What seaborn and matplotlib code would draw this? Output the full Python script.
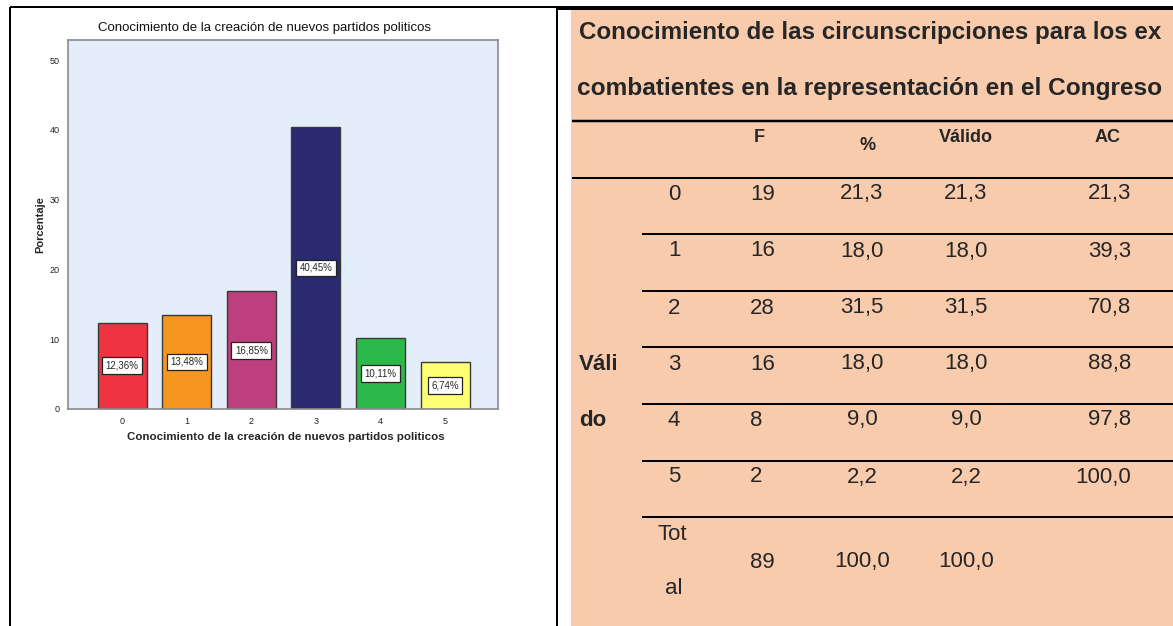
import matplotlib
matplotlib.use("Agg")
import matplotlib.pyplot as plt
import seaborn as sns
import pandas as pd
from matplotlib.patches import Rectangle

# ---------------- data ----------------
categories = ["0", "1", "2", "3", "4", "5"]
porcentajes = [12.36, 13.48, 16.85, 40.45, 10.11, 6.74]
bar_colors = ["#EF3340", "#F7961F", "#BE3F7E", "#2A2A70", "#2DB84A", "#FFFF73"]
chart_title = "Conocimiento de la creación de nuevos partidos politicos"
x_label = "Conocimiento de la creación de nuevos partidos politicos"
y_label = "Porcentaje"
y_ticks = [0, 10, 20, 30, 40, 50]

table_title = ["Conocimiento de las circunscripciones para los ex",
               "combatientes en la representación en el Congreso"]
table_header = ["F", "%", "Válido", "AC"]
row_index = ["0", "1", "2", "3", "4", "5"]
col_F = ["19", "16", "28", "16", "8", "2"]
col_pct = ["21,3", "18,0", "31,5", "18,0", "9,0", "2,2"]
col_valido = ["21,3", "18,0", "31,5", "18,0", "9,0", "2,2"]
col_AC = ["21,3", "39,3", "70,8", "88,8", "97,8", "100,0"]
group_label = ["Váli", "do"]
total_label = ["Tot", "al"]
total_values = ["89", "100,0", "100,0"]

# ---------------- style ----------------
sns.set_theme(style="white")
plt.rcParams["font.family"] = ["Liberation Sans Narrow", "Liberation Sans", "DejaVu Sans"]
narrow = ["Liberation Sans Narrow", "Liberation Sans", "DejaVu Sans"]
arial = ["Liberation Sans", "DejaVu Sans"]

W, H = 1173, 626
fig = plt.figure(figsize=(W / 100, H / 100), dpi=100)
fig.patch.set_facecolor("white")

# overlay axes in pixel coordinates (layout only)
ov = fig.add_axes([0, 0, 1, 1], zorder=0)
ov.set_xlim(0, W)
ov.set_ylim(H, 0)
ov.axis("off")

PX = 72 / 100  # points per pixel

# frame lines
ov.plot([10, 557], [7, 7], color="black", lw=2 * PX, solid_capstyle="butt")
ov.plot([557, W], [8, 8], color="black", lw=4 * PX, solid_capstyle="butt")
ov.plot([10, 10], [7, H], color="black", lw=2 * PX, solid_capstyle="butt")
ov.plot([557, 557], [7, H], color="black", lw=2 * PX, solid_capstyle="butt")
ov.add_patch(Rectangle((571, 10), W - 571, H - 10, facecolor="#F8CBAD", edgecolor="none"))

# ---------------- bar chart ----------------
ax_l, ax_r, ax_t, ax_b = 68, 498, 40, 409
ax = fig.add_axes([ax_l / W, 1 - ax_b / H, (ax_r - ax_l) / W, (ax_b - ax_t) / H], zorder=2)
df = pd.DataFrame({"cat": categories, "pct": porcentajes})
sns.barplot(data=df, x="cat", y="pct", hue="cat", palette=bar_colors, legend=False,
            width=0.76, saturation=1, edgecolor="#3a3a3a", linewidth=1.0, ax=ax)
ax.set_facecolor("#E3EEFA")
ax.set_xlim(-0.84, 5.82)
ax.set_ylim(0, 52.9)
ax.set_yticks(y_ticks)
ax.set_yticklabels([str(t) for t in y_ticks], fontsize=6.5, family=narrow)
ax.set_xticks(range(len(categories)))
ax.set_xticklabels(categories, fontsize=6.5, family=narrow)
for s in ax.spines.values():
    s.set_color("#8a8a8a")
    s.set_linewidth(1.2)
ax.tick_params(axis="y", direction="out", length=5, width=0.8, color="#333333", pad=1, labelcolor="#222222")
ax.tick_params(axis="x", direction="out", length=4, width=0.8, color="#333333", pad=1.5, labelcolor="#222222")

for cont in ax.containers:
    labels = [f"{b.get_height():.2f}".replace(".", ",") + "%" for b in cont]
    ax.bar_label(cont, labels=labels, label_type="center", fontsize=7, family=narrow,
                 bbox=dict(boxstyle="square,pad=0.35", facecolor="white", edgecolor="#222222", linewidth=0.9))

ax.set_xlabel(x_label, fontsize=8.5, fontweight="bold", family=narrow)
ax.set_ylabel(y_label, fontsize=8, fontweight="bold", family=narrow)
ax.xaxis.label.set_va("center")
ax.yaxis.label.set_va("center")
ax.xaxis.set_label_coords((286 - ax_l) / (ax_r - ax_l), (ax_b - 437) / (ax_b - ax_t))
ax.yaxis.set_label_coords((40 - ax_l) / (ax_r - ax_l), 0.5)

t_chart = ov.text(264, 28, chart_title, ha="center", va="center", fontsize=9, family=narrow, color="#111111")

# ---------------- table ----------------
lw_line = 2 * PX
ov.plot([572, W], [121, 121], color="black", lw=2.5 * PX, solid_capstyle="butt")
ov.plot([572, W], [178, 178], color="black", lw=lw_line, solid_capstyle="butt")
row_lines = [234, 291, 347, 404, 461, 517]
for yl in row_lines:
    ov.plot([642, W], [yl, yl], color="black", lw=lw_line, solid_capstyle="butt")

tt1 = ov.text(870, 32, table_title[0], ha="center", va="center", fontsize=15, fontweight="bold", family=arial)
tt2 = ov.text(870, 88, table_title[1], ha="center", va="center", fontsize=15, fontweight="bold", family=arial)

hdr_x = [759, 868, 966, 1108]
hdr_y = [137, 146, 137, 137]
for h, hx, hy in zip(table_header, hdr_x, hdr_y):
    ov.text(hx, hy, h, ha="center", va="center", fontsize=13, fontweight="bold", family=arial)

row_y = [194, 251, 308, 364, 420, 477]
FS = 16
for i, yy in enumerate(row_y):
    ov.text(668, yy, row_index[i], ha="left", va="center", fontsize=FS, family=arial)
    ov.text(750, yy, col_F[i], ha="left", va="center", fontsize=FS, family=arial)
    ov.text(862, yy, col_pct[i], ha="center", va="center", fontsize=FS, family=arial)
    ov.text(966, yy, col_valido[i], ha="center", va="center", fontsize=FS, family=arial)
    ov.text(1131, yy, col_AC[i], ha="right", va="center", fontsize=FS, family=arial)

ov.text(579, 364, group_label[0], ha="left", va="center", fontsize=FS, fontweight="bold", family=arial)
ov.text(579, 420, group_label[1], ha="left", va="center", fontsize=FS, fontweight="bold", family=arial)

ov.text(658, 534, total_label[0], ha="left", va="center", fontsize=FS, family=arial)
ov.text(665, 589, total_label[1], ha="left", va="center", fontsize=FS, family=arial)
ov.text(750, 562, total_values[0], ha="left", va="center", fontsize=FS, family=arial)
ov.text(862, 562, total_values[1], ha="center", va="center", fontsize=FS, family=arial)
ov.text(966, 562, total_values[2], ha="center", va="center", fontsize=FS, family=arial)

# fit text widths to the reference
fig.canvas.draw()
r = fig.canvas.get_renderer()
for t, target in [(tt1, 585), (tt2, 586), (t_chart, 336), (ax.xaxis.label, 316)]:
    bb = t.get_window_extent(r)
    t.set_fontsize(t.get_fontsize() * target / bb.width)

fig.savefig("out.png", dpi=100)
